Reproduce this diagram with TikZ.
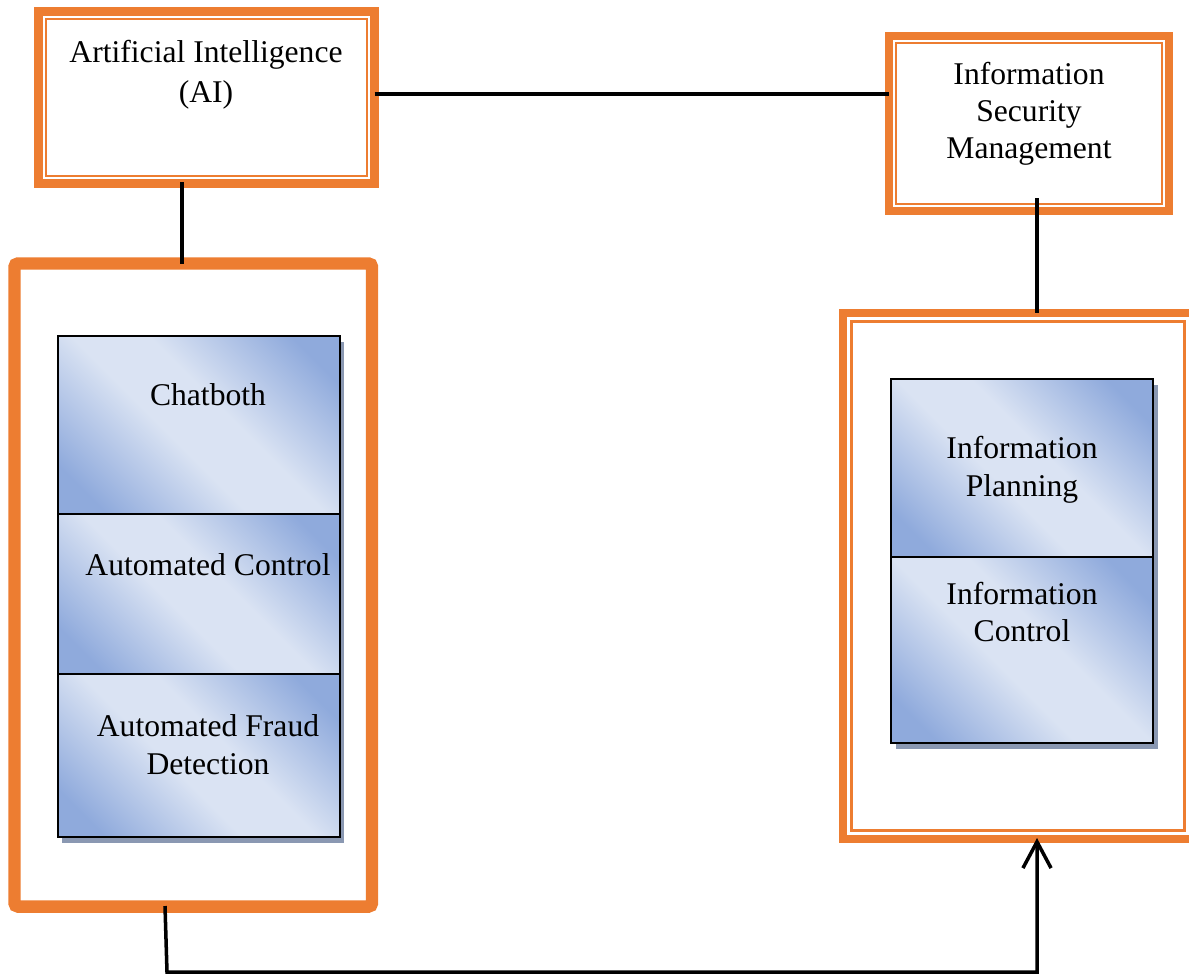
\documentclass[tikz,border=0pt]{standalone}
\usepackage{fontspec}
\setmainfont{Liberation Serif}
\usetikzlibrary{fit,arrows.meta}
\definecolor{frameorange}{HTML}{ED7D31}
\definecolor{boxlight}{HTML}{DAE3F3}
\definecolor{boxdark}{HTML}{8FAADC}
\definecolor{shadowblue}{RGB}{138,152,178}
\pgfdeclareverticalshading{stackshade}{100bp}{color(0bp)=(boxdark); color(22bp)=(boxdark); color(44bp)=(boxlight); color(56bp)=(boxlight); color(78bp)=(boxdark); color(100bp)=(boxdark)}
\tikzset{
  thickframe/.style={draw=frameorange, line width=4.8pt, fill=white, inner sep=0pt, outer sep=0pt},
  thinframe/.style={draw=frameorange, line width=1.4pt},
  bigframe/.style={draw=frameorange, line width=7.1pt, fill=white, rounded corners=2pt, inner sep=0pt, outer sep=0pt},
  stackbox/.style={draw=black, line width=1.3pt, inner sep=0pt, outer sep=0pt,
    shading=stackshade, shading angle=-45},
  boxshadow/.style={fill=shadowblue},
  label/.style={align=center, font=\fontsize{18}{21.5}\selectfont, inner sep=0pt},
  conn/.style={draw=black, line width=2pt},
  arr/.style={conn, -{Straight Barb[length=15pt, width=16pt, line width=2pt]}}
}
\begin{document}
\begin{tikzpicture}[x=0.02cm, y=0.02cm]
\useasboundingbox (0,0) rectangle (1189,-975);
% top boxes
\node[thickframe, fit={(38.5,-11.5) (374.5,-183.5)}] (ai) {};
\draw[thinframe] ([shift={(7.5,-7.5)}]ai.north west) rectangle ([shift={(-7.5,7.5)}]ai.south east);
\node[label, font=\fontsize{18}{22.7}\selectfont] (aitext) at (206,-75) {Artificial Intelligence\\(AI)};

\node[thickframe, fit={(889,-36) (1169,-211)}] (ism) {};
\draw[thinframe] ([shift={(7,-7)}]ism.north west) rectangle ([shift={(-7,7)}]ism.south east);
\node[label, font=\fontsize{18}{21}\selectfont] (ismtext) at (1029,-114) {Information\\Security\\Management};

% left big frame
\node[bigframe, fit={(14.5,-263.5) (372,-906.5)}] (left) {};
\fill[boxshadow] (62,-342) rectangle (344,-520);
\node[stackbox, fit={(58,-336) (340,-514)}] (chat) {};
\fill[boxshadow] (62,-520) rectangle (344,-680);
\node[stackbox, fit={(58,-514) (340,-674)}] (actrl) {};
\fill[boxshadow] (62,-680) rectangle (344,-843);
\node[stackbox, fit={(58,-674) (340,-837)}] (fraud) {};
\node[label] (chattext) at (208,-395) {Chatboth};
\node[label] (actrltext) at (208,-565) {Automated Control};
\node[label] (fraudtext) at (208,-745) {Automated Fraud\\Detection};

% right big frame
\node[thickframe, fit={(843,-313) (1193,-839)}] (right) {};
\draw[thinframe] ([shift={(8.5,-8.5)}]right.north west) rectangle ([shift={(-8.5,8.5)}]right.south east);
\fill[boxshadow] (896,-385) rectangle (1158,-563);
\node[stackbox, fit={(891,-379) (1153,-557)}] (plan) {};
\fill[boxshadow] (896,-563) rectangle (1158,-749);
\node[stackbox, fit={(891,-557) (1153,-743)}] (ictrl) {};
\node[label] (plantext) at (1022,-470) {Information\\Planning};
\node[label] (ictrltext) at (1022,-612) {Information\\Control};

% connectors
\coordinate (a1) at (182,-182);
\coordinate (i1) at (1037,-198);
\coordinate (b1) at (165,-906);
\coordinate (b2) at (167,-972);
\coordinate (r1) at (1037,-838);
\draw[conn] ([yshift=3.5*0.02cm]ai.east) -- ([yshift=3.5*0.02cm]ai.east -| ism.west);
\draw[conn] (a1) -- (a1 |- left.north);
\draw[conn] (i1) -- (i1 |- right.north);
\draw[arr] (b1) -- (b2) -- (b2 -| r1) -- (r1);
\end{tikzpicture}
\end{document}
